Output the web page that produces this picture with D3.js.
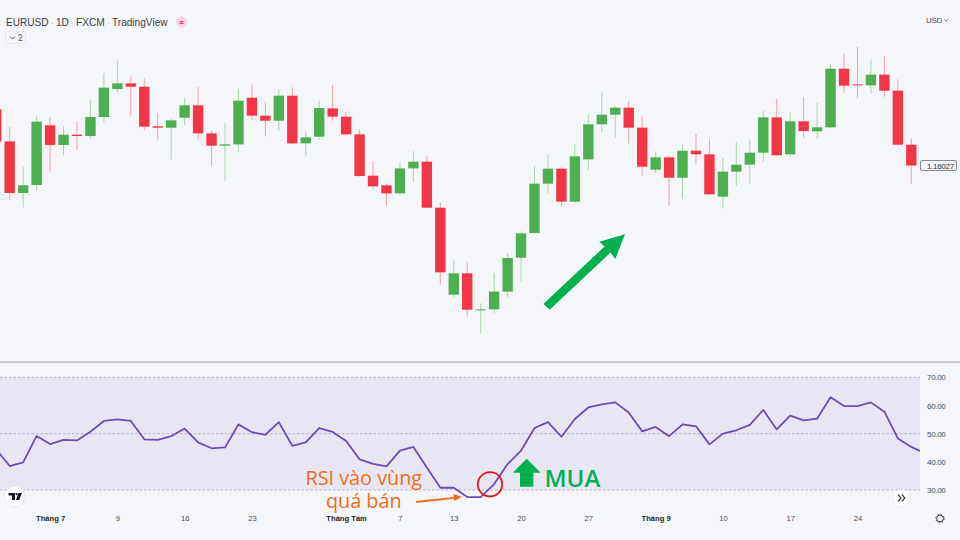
<!DOCTYPE html>
<html>
<head>
<meta charset="utf-8">
<script src="https://cdn.jsdelivr.net/npm/d3@7"></script>
<style>
    html, body { margin: 0; padding: 0; background: #f5f6f9; }
    svg { display: block; }
    text { font-family: Roboto, "Liberation Sans", sans-serif; }
    .axis path, .axis line { display: none; }
</style>
</head>
<body>
<div id="chart"></div>
<script>
// EURUSD daily candles (first candle is cut by the left edge)
var opens = [1.17036,1.16461,1.15533,1.15677,1.16749,1.16395,1.16581,1.16557,1.16898,1.17401,1.17503,1.17443,1.16731,1.16707,1.16886,1.17108,1.16605,1.16383,1.16407,1.17245,1.16922,1.16832,1.17281,1.16425,1.16545,1.17054,1.16904,1.16587,1.15844,1.15671,1.15527,1.15976,1.16096,1.15269,1.13707,1.14090,1.13437,1.13443,1.13761,1.14371,1.14814,1.15701,1.15970,1.15377,1.16138,1.16767,1.16940,1.17066,1.16707,1.15952,1.16174,1.15808,1.16293,1.16228,1.15467,1.15916,1.16042,1.16257,1.16892,1.16228,1.16821,1.16641,1.16713,1.17766,1.17485,1.17467,1.17659,1.17371,1.16401];
var highs = [1.17204,1.16725,1.16006,1.16904,1.16892,1.16737,1.16821,1.17204,1.17683,1.17910,1.17623,1.17587,1.16964,1.16868,1.17251,1.17443,1.16653,1.16785,1.17395,1.17503,1.17162,1.17395,1.17431,1.16641,1.17192,1.17473,1.16994,1.16677,1.16108,1.15707,1.16078,1.16287,1.16198,1.15365,1.14323,1.14287,1.13551,1.14090,1.14455,1.14844,1.16018,1.16234,1.15994,1.16407,1.16946,1.17335,1.17096,1.17186,1.16904,1.16281,1.16198,1.16401,1.16593,1.16497,1.16162,1.16449,1.16497,1.17012,1.17222,1.16988,1.17251,1.17150,1.17850,1.18030,1.18162,1.17934,1.17988,1.17575,1.16515];
var lows = [1.16306,1.15407,1.15275,1.15581,1.15922,1.16210,1.16312,1.16509,1.16803,1.17335,1.16910,1.16665,1.16497,1.16138,1.16755,1.16497,1.16024,1.15754,1.16263,1.16838,1.16551,1.16653,1.16413,1.16210,1.16485,1.16832,1.16575,1.15826,1.15611,1.15305,1.15503,1.15737,1.15263,1.13886,1.13659,1.13311,1.13012,1.13365,1.13665,1.13946,1.14808,1.15533,1.15299,1.15365,1.15946,1.16629,1.16527,1.16425,1.15844,1.15898,1.15299,1.15425,1.16060,1.15503,1.15258,1.15665,1.15707,1.16090,1.16204,1.16180,1.16527,1.16509,1.16695,1.17335,1.17245,1.17317,1.17263,1.16395,1.15701];
var closes = [1.16461,1.15533,1.15671,1.16815,1.16395,1.16581,1.16557,1.16898,1.17425,1.17503,1.17443,1.16725,1.16707,1.16838,1.17108,1.16605,1.16383,1.16407,1.17192,1.16922,1.16832,1.17281,1.16425,1.16533,1.17060,1.16904,1.16587,1.15838,1.15653,1.15527,1.15976,1.16096,1.15269,1.14108,1.14090,1.13437,1.13443,1.13761,1.14365,1.14808,1.15701,1.15970,1.15377,1.16192,1.16767,1.16940,1.17066,1.16707,1.16006,1.16174,1.15808,1.16293,1.16228,1.15509,1.15916,1.16042,1.16257,1.16892,1.16210,1.16821,1.16647,1.16713,1.17766,1.17461,1.17467,1.17659,1.17371,1.16401,1.16027];

// RSI, one value per candle plus one more past the last candle
var rsi = [44.4,38.5,39.8,49.2,46.3,47.8,47.6,50.7,54.5,55.1,54.5,48.0,47.8,49.1,51.8,46.9,44.8,45.1,53.3,50.5,49.6,54.1,45.7,46.9,52.0,50.6,47.4,40.9,39.3,38.4,44.0,45.3,38.0,30.8,30.8,27.5,27.5,32.1,39.2,44.0,52.0,54.1,48.9,55.2,59.3,60.4,61.1,57.5,50.8,52.4,49.1,53.3,52.6,46.2,50.0,51.2,53.1,58.4,51.5,56.4,54.7,55.3,62.9,59.8,59.8,61.1,57.8,48.3,45.3,43.1];

var dateTicks = [4,9,14,19,26,30,34,39,44,49,54,59,64]; //candle number of each date label
var dateLabels = ["Tháng 7","9","16","23","Tháng Tám","7","13","20","27","Tháng 9","10","17","24"];
var monthLabels = ["Tháng 7","Tháng Tám","Tháng 9"];
var priceTicks = [1.13,1.135,1.14,1.145,1.15,1.155,1.16,1.165,1.17,1.175,1.18,1.185];
var rsiTicks = [30,40,50,60,70];
var rsiLevels = [30,50,70];
var lastPrice = 1.16027;
var headerParts = ["EURUSD","1D","FXCM","TradingView"];

var width = 960, height = 540;
var paneRight = 920;

var x = d3.scaleLinear().domain([1, 68]).range([9.7, 911.3]);
var y = d3.scaleLinear().domain([1.13, 1.18]).range([334, 55.7]);
var yRsi = d3.scaleLinear().domain([30, 70]).range([490, 377.3]);

var candles = opens.map(function (o, i) {
    return { i: i, o: o, h: highs[i], l: lows[i], c: closes[i] };
});

var svg = d3.select("#chart").append("svg")
    .attr("width", width)
    .attr("height", height);

svg.append("rect").attr("width", width).attr("height", height).attr("fill", "#f5f6f9");

var defs = svg.append("defs");
defs.append("clipPath").attr("id", "pane")
    .append("rect").attr("width", paneRight).attr("height", height);
defs.append("clipPath").attr("id", "priceClip")
    .append("rect").attr("x", paneRight).attr("y", 27).attr("width", 40).attr("height", 320);

var upColor = "#4caf50", downColor = "#f23645";
function candleColor(d) { return d.c >= d.o ? upColor : downColor; }

//wicks first, bodies on top
var plot = svg.append("g").attr("clip-path", "url(#pane)");

plot.selectAll(".wick")
    .data(candles)
    .enter()
    .append("line")
    .attr("class", "wick")
    .attr("x1", function (d) { return x(d.i); })
    .attr("x2", function (d) { return x(d.i); })
    .attr("y1", function (d) { return y(d.h); })
    .attr("y2", function (d) { return y(d.l); })
    .attr("stroke", candleColor)
    .attr("stroke-opacity", 0.45)
    .attr("stroke-width", 1);

plot.selectAll(".body")
    .data(candles)
    .enter()
    .append("rect")
    .attr("class", "body")
    .attr("x", function (d) { return x(d.i) - 5.2; })
    .attr("width", 10.4)
    .attr("y", function (d) { return y(Math.max(d.o, d.c)); })
    .attr("height", function (d) { return Math.max(1, Math.abs(y(d.o) - y(d.c))); })
    .attr("fill", candleColor);

//pane divider
svg.append("rect").attr("x", 0).attr("y", 361.5).attr("width", width).attr("height", 1.2).attr("fill", "#a9abb0");

//rsi band
svg.append("rect")
    .attr("x", 0).attr("width", paneRight)
    .attr("y", yRsi(70)).attr("height", yRsi(30) - yRsi(70))
    .attr("fill", "#e9e6f3");

svg.selectAll(".level")
    .data(rsiLevels)
    .enter()
    .append("line")
    .attr("class", "level")
    .attr("x1", 0).attr("x2", paneRight)
    .attr("y1", function (d) { return yRsi(d); })
    .attr("y2", function (d) { return yRsi(d); })
    .attr("stroke", "#a8a6b4")
    .attr("stroke-width", 0.8)
    .attr("stroke-dasharray", "2.5 2");

var rsiLine = d3.line()
    .x(function (d, i) { return x(i); })
    .y(function (d) { return yRsi(d); });

svg.append("path")
    .datum(rsi)
    .attr("clip-path", "url(#pane)")
    .attr("d", rsiLine)
    .attr("fill", "none")
    .attr("stroke", "#7049bd")
    .attr("stroke-width", 1.8)
    .attr("stroke-linejoin", "round");

//condensed look of the small scale labels
function scaleText(sel) {
    sel.attr("font-size", 8)
        .attr("letter-spacing", -0.3)
        .attr("fill", "#4a4d57")
        .style("font-family", "Liberation Sans");
}

//axes
var priceAxis = d3.axisRight(y)
    .tickValues(priceTicks)
    .tickSize(0)
    .tickPadding(7)
    .tickFormat(d3.format(".5f"));

svg.append("g")
    .attr("class", "axis")
    .attr("clip-path", "url(#priceClip)")
    .attr("transform", "translate(" + paneRight + ",0)")
    .call(priceAxis)
    .call(function (g) { g.selectAll("text").call(scaleText); });

var rsiAxis = d3.axisRight(yRsi)
    .tickValues(rsiTicks)
    .tickSize(0)
    .tickPadding(7)
    .tickFormat(d3.format(".2f"));

svg.append("g")
    .attr("class", "axis")
    .attr("transform", "translate(" + paneRight + ",0)")
    .call(rsiAxis)
    .call(function (g) { g.selectAll("text").call(scaleText); });

var dateAxis = d3.axisBottom(x)
    .tickValues(dateTicks)
    .tickSize(0)
    .tickPadding(0)
    .tickFormat(function (d) { return dateLabels[dateTicks.indexOf(d)]; });

svg.append("g")
    .attr("class", "axis")
    .attr("transform", "translate(0,515.5)")
    .call(dateAxis)
    .call(function (g) {
        g.selectAll("text")
            .attr("font-size", 7.6)
            .style("font-family", "Liberation Sans")
            .attr("font-weight", function () { return monthLabels.indexOf(this.textContent) >= 0 ? 700 : 400; })
            .attr("fill", function () { return monthLabels.indexOf(this.textContent) >= 0 ? "#1c1f29" : "#4a4d57"; });
    });

//last price box
svg.append("rect")
    .attr("x", 920.5).attr("y", y(lastPrice) - 5)
    .attr("width", 36).attr("height", 10)
    .attr("rx", 1.5)
    .attr("fill", "#f5f6f9")
    .attr("stroke", "#6c6f76")
    .attr("stroke-width", 0.8);
svg.append("text")
    .attr("x", 927).attr("y", y(lastPrice) + 3)
    .call(scaleText)
    .attr("fill", "#30333c")
    .text(d3.format(".5f")(lastPrice));

//header
var header = svg.append("text")
    .attr("x", 6).attr("y", 25.7)
    .attr("font-size", 10.1)
    .style("font-family", "Liberation Sans")
    .attr("fill", "#3c3f48");
headerParts.forEach(function (part, i) {
    if (i > 0) {
        header.append("tspan").attr("fill", "#b4b6bd").attr("font-size", 8.2).text(" · ");
    }
    header.append("tspan").text(part);
});
svg.append("circle").attr("cx", 181.5).attr("cy", 22).attr("r", 5.5).attr("fill", "#f5d5e1");
svg.append("text")
    .attr("x", 181.5).attr("y", 25)
    .attr("text-anchor", "middle")
    .attr("font-size", 8)
    .attr("font-weight", 700)
    .attr("fill", "#c2185b")
    .text("≈");

svg.append("rect")
    .attr("x", 5.5).attr("y", 31.5).attr("width", 20).attr("height", 12).attr("rx", 1.5)
    .attr("fill", "#f7f8fa").attr("stroke", "#e0e2e7").attr("stroke-width", 0.8);
svg.append("path")
    .attr("d", "M10 36.5 L12.5 39 L15 36.5")
    .attr("fill", "none").attr("stroke", "#3c3f48").attr("stroke-width", 0.9);
svg.append("text")
    .attr("x", 18).attr("y", 41)
    .attr("font-size", 8.5).attr("fill", "#555862")
    .text("2");

svg.append("text")
    .attr("x", 926).attr("y", 23)
    .call(scaleText)
    .text("USD");
svg.append("path")
    .attr("d", "M944.5 19.5 L946.2 21.2 L947.9 19.5")
    .attr("fill", "none").attr("stroke", "#3f424c").attr("stroke-width", 0.8);

//TradingView badge
svg.append("circle").attr("cx", 14.7).attr("cy", 496.5).attr("r", 10.2)
    .attr("fill", "#ffffff").attr("stroke", "#e6e6ea").attr("stroke-width", 0.8);
svg.append("path")
    .attr("d", "M8.5 493 H15 V500 H12 V495.6 H8.5 Z M16 500 L18.4 493 H22 L19.2 500 Z")
    .attr("fill", "#131722");
svg.append("circle").attr("cx", 16.6).attr("cy", 494.2).attr("r", 1.1).attr("fill", "#131722");

//scroll button
svg.append("circle").attr("cx", 901.3).attr("cy", 498).attr("r", 8.5)
    .attr("fill", "#ffffff").attr("stroke", "#ecedf0").attr("stroke-width", 0.8);
svg.append("path")
    .attr("d", "M898 494.5 L901 498 L898 501.5 M901.8 494.5 L904.8 498 L901.8 501.5")
    .attr("fill", "none").attr("stroke", "#3c3f48").attr("stroke-width", 1.2);

//settings gear
svg.append("circle").attr("cx", 940).attr("cy", 518.5).attr("r", 3.4)
    .attr("fill", "none").attr("stroke", "#2a2d35").attr("stroke-width", 0.9);
svg.append("circle").attr("cx", 940).attr("cy", 518.5).attr("r", 4.2)
    .attr("fill", "none").attr("stroke", "#2a2d35").attr("stroke-width", 0.9)
    .attr("stroke-dasharray", "1.3 2");

//annotations
var orange = "#f26a21", green = "#00b050";

svg.append("text")
    .attr("x", 305.5).attr("y", 485)
    .attr("font-size", 19.8)
    .style("font-family", "'Open Sans'")
    .attr("font-weight", 500)
    .attr("fill", orange)
    .text("RSI vào vùng");
svg.append("text")
    .attr("x", 326).attr("y", 507.5)
    .attr("font-size", 19.8)
    .style("font-family", "'Open Sans'")
    .attr("font-weight", 500)
    .attr("fill", orange)
    .text("quá bán");

svg.append("path")
    .attr("d", "M416 502 L454 497.8")
    .attr("fill", "none").attr("stroke", orange).attr("stroke-width", 1.8);
svg.append("path")
    .attr("d", "M462 496.7 L453.5 494 L454.3 501 Z")
    .attr("fill", orange);

svg.append("circle").attr("cx", 490).attr("cy", 484.3).attr("r", 12.2)
    .attr("fill", "none").attr("stroke", "#e8141c").attr("stroke-width", 1.8);

svg.append("path")
    .attr("d", "M526.7 458.7 L540.7 472.7 L533.3 472.7 L533.3 486.7 L520 486.7 L520 472.7 L512.7 472.7 Z")
    .attr("fill", green);

svg.append("text")
    .attr("x", 544.5).attr("y", 487)
    .attr("font-size", 24)
    .style("font-family", "'Open Sans'")
    .attr("font-weight", 600)
    .attr("fill", green)
    .text("MUA");

svg.append("path")
    .attr("d", "M543.3 304 L549.9 309.4 L610.5 252.5 L615.3 259 L625 234.3 L599.3 241.7 L604.6 246.5 Z")
    .attr("fill", green);
</script>
</body>
</html>
